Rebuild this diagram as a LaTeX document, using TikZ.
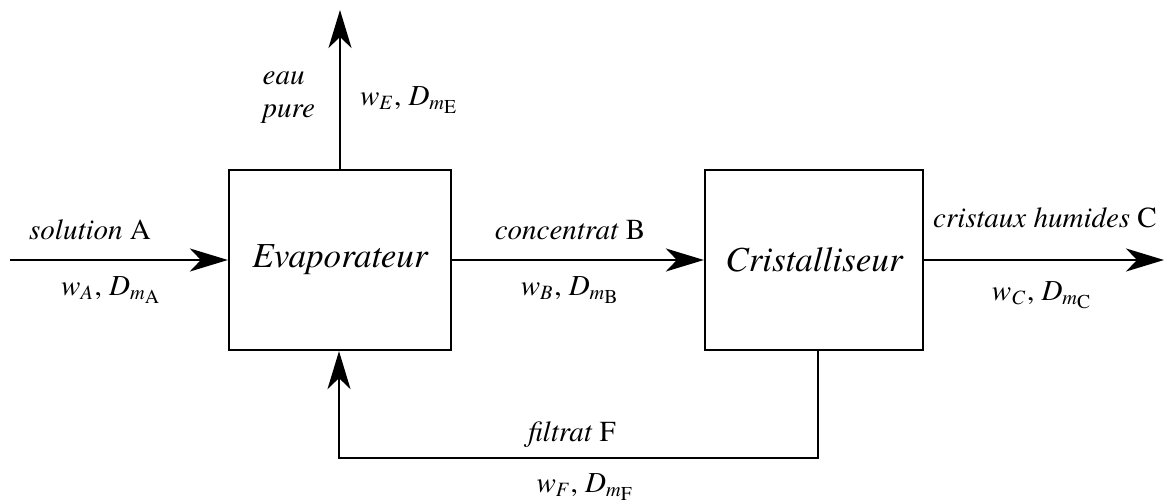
\documentclass[tikz,border=0pt]{standalone}
\usepackage{fontspec}
\setmainfont{texgyretermes}[Extension=.otf, UprightFont=*-regular, ItalicFont=*-italic, BoldFont=*-bold, BoldItalicFont=*-bolditalic]
\usetikzlibrary{arrows.meta,positioning,calc}
\tikzset{
  unit/.style={draw, line width=0.65pt, inner sep=0pt, minimum height=1.80cm, font=\itshape},
  flow/.style={line width=0.65pt, -{Stealth[length=3.8mm, width=2.3mm, inset=1.1mm]}},
  lbl/.style={inner sep=0pt},
}
\newcommand{\rate}[1]{\textit{w}\textsubscript{\textit{#1}}, \textit{D}\textsubscript{\textit{m}\raisebox{-0.45ex}{\fontsize{5.6}{6}\selectfont #1}}}

\begin{document}
\begin{tikzpicture}[font=\fontsize{8.25}{9.4}\selectfont]
  \useasboundingbox (0,0) rectangle (11.66,5.02);
  % the two units
  \node[unit, minimum width=2.22cm] (evap) at (3.40,2.42) {Evaporateur};
  \node[unit, minimum width=2.18cm] (cris) at (8.14,2.42) {Cristalliseur};
  % free ends
  \coordinate (feed) at (0.10,2.42);
  \coordinate (vap) at (3.40,4.92);
  \coordinate (prod) at (11.64,2.42);
  \coordinate (fb) at (5.75,0.44);
  % streams
  \draw[flow] (feed) -- (evap);
  \draw[flow] (evap) -- (vap);
  \draw[flow] (evap) -- (cris);
  \draw[flow] (cris) -- (prod);
  \draw[flow] ($(cris.south)+(0.04,0)$) |- (fb) -| ($(evap.south)+(-0.01,0)$);
  % labels
  \node[lbl] (la) at (0.90,2.72) {\textit{solution} A};
  \node[lbl] (ra) at (1.11,2.12) {\rate{A}};
  \node[lbl, align=left, anchor=west] (le) at (2.62,4.04) {\textit{eau}\\\textit{pure}};
  \node[lbl] (re) at (4.09,4.02) {\rate{E}};
  \node[lbl] (lb) at (5.70,2.72) {\textit{concentrat} B};
  \node[lbl] (rb) at (5.70,2.12) {\rate{B}};
  \node[lbl] (lc) at (10.45,2.84) {\textit{cristaux humides} C};
  \node[lbl] (rc) at (10.42,2.07) {\rate{C}};
  \node[lbl] (lf) at (5.72,0.67) {\textit{filtrat} F};
  \node[lbl] (rf) at (5.85,0.15) {\rate{F}};
\end{tikzpicture}
\end{document}
